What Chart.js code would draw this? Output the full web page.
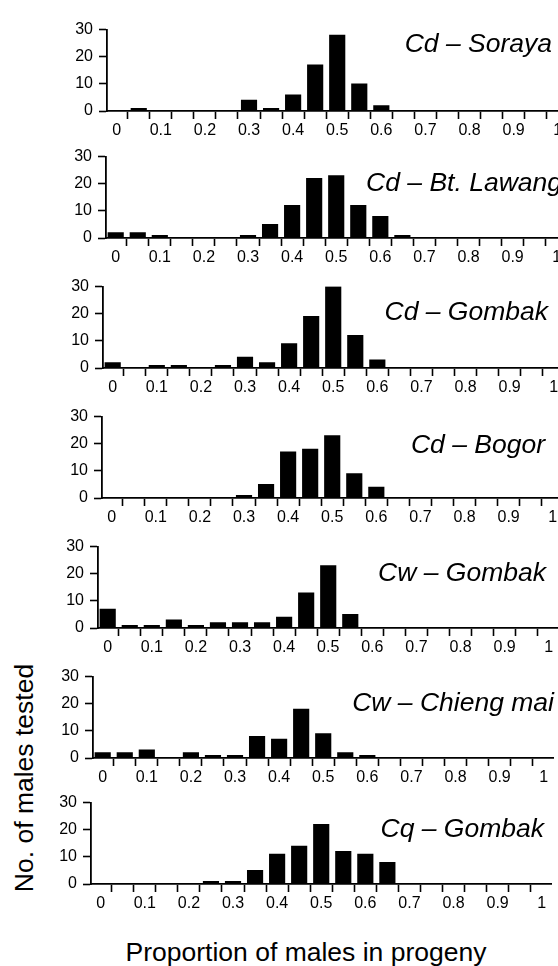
<!DOCTYPE html>
<html>
<head>
<meta charset="utf-8">
<script src="https://cdn.jsdelivr.net/npm/chart.js@4/dist/chart.umd.min.js"></script>
<style>
html,body{margin:0;padding:0;background:#fff;}
body{width:558px;height:966px;position:relative;overflow:hidden;font-family:"Liberation Sans",Arial,sans-serif;color:#000;}
canvas{position:absolute;}
#ytitle{position:absolute;left:24px;top:778px;transform:translate(-50%,-50%) rotate(-90deg);font-size:26.5px;line-height:30px;white-space:nowrap;}
#xtitle{position:absolute;left:306px;top:937px;transform:translateX(-50%);font-size:26.5px;line-height:30px;white-space:nowrap;}
</style>
</head>
<body>
<div id="ytitle">No. of males tested</div>
<div id="xtitle">Proportion of males in progeny</div>
<script>
// ---- data ----
const bins = [0,0.05,0.1,0.15,0.2,0.25,0.3,0.35,0.4,0.45,0.5,0.55,0.6,0.65,0.7,0.75,0.8,0.85,0.9,0.95,1];
const xTickLabels = ['0','0.1','0.2','0.3','0.4','0.5','0.6','0.7','0.8','0.9','1'];
const yTickValues = [0,10,20,30];
const panelNames = ['Cd \u2013 Soraya','Cd \u2013 Bt. Lawang','Cd \u2013 Gombak','Cd \u2013 Bogor','Cw \u2013 Gombak','Cw \u2013 Chieng mai','Cq \u2013 Gombak'];
const cdSoraya   = [0,1,0,0,0,0,4,1,6,17,28,10,2,0,0,0,0,0,0,0,0];
const cdLawang   = [2,2,1,0,0,0,1,5,12,22,23,12,8,1,0,0,0,0,0,0,0];
const cdGombak   = [2,0,1,1,0,1,4,2,9,19,30,12,3,0,0,0,0,0,0,0,0];
const cdBogor    = [0,0,0,0,0,0,1,5,17,18,23,9,4,0,0,0,0,0,0,0,0];
const cwGombak   = [7,1,1,3,1,2,2,2,4,13,23,5,0,0,0,0,0,0,0,0,0];
const cwChiengMai= [2,2,3,0,2,1,1,8,7,18,9,2,1,0,0,0,0,0,0,0,0];
const cqGombak   = [0,0,0,0,0,1,1,5,11,14,22,12,11,8,0,0,0,0,0,0,0];
const panelSeries = [cdSoraya, cdLawang, cdGombak, cdBogor, cwGombak, cwChiengMai, cqGombak];

// ---- layout (page placement of each panel, in px) ----
const panelLayout = [
  {left:47, top:14,  titleRight:552, titleLevel:24.5},
  {left:46, top:141, titleRight:562, titleLevel:20},
  {left:43, top:271, titleRight:548, titleLevel:20.5},
  {left:42, top:401, titleRight:545, titleLevel:19.3},
  {left:38, top:531, titleRight:546, titleLevel:20},
  {left:33, top:661, titleRight:554, titleLevel:20},
  {left:31, top:787, titleRight:544, titleLevel:20.2}
];

const FONT = '"Liberation Sans", Arial, sans-serif';

const panelTitlePlugin = {
  id: 'panelTitle',
  afterDraw(chart, args, opts) {
    const ctx = chart.ctx;
    const y = chart.scales.y.getPixelForValue(opts.level);
    ctx.save();
    ctx.font = 'italic 26.5px ' + FONT;
    ctx.fillStyle = '#000';
    ctx.textAlign = 'right';
    ctx.textBaseline = 'middle';
    ctx.fillText(opts.text, opts.x, y);
    ctx.restore();
  }
};

panelSeries.forEach((series, p) => {
  const L = panelLayout[p];
  const cv = document.createElement('canvas');
  cv.width = 540; cv.height = 130;
  cv.style.left = L.left + 'px';
  cv.style.top = L.top + 'px';
  document.body.appendChild(cv);
  new Chart(cv, {
    type: 'bar',
    data: {
      datasets: [{
        data: series.map((v, i) => ({x: bins[i], y: v})),
        backgroundColor: '#000',
        borderWidth: 0,
        barThickness: 15.5
      }]
    },
    plugins: [panelTitlePlugin],
    options: {
      responsive: false,
      animation: false,
      devicePixelRatio: 1,
      layout: {padding: {top: 10, right: 20, bottom: 0, left: 0}},
      plugins: {
        legend: {display: false},
        tooltip: {enabled: false},
        panelTitle: {text: panelNames[p], x: L.titleRight - L.left, level: L.titleLevel}
      },
      scales: {
        x: {
          type: 'linear', min: -0.022, max: 1.021, offset: false,
          afterBuildTicks: s => { s.ticks = bins.map(v => ({value: v})); },
          afterFit: s => { s.height = 33; },
          grid: {display: true, drawOnChartArea: false, drawTicks: true, tickLength: 8, tickColor: '#000', tickWidth: 1.6},
          border: {display: true, color: '#000', width: 1.8},
          ticks: {autoSkip: false, maxRotation: 0, minRotation: 0, padding: 2, color: '#000',
                  font: {family: FONT, size: 16},
                  callback: (v, i) => (i % 2 === 0 ? xTickLabels[i / 2] : '')}
        },
        y: {
          min: 0, max: 30,
          afterBuildTicks: s => { s.ticks = yTickValues.map(v => ({value: v})); },
          afterFit: s => { s.width = 60; },
          grid: {display: true, drawOnChartArea: false, drawTicks: true, tickLength: 8, tickColor: '#000', tickWidth: 1.6},
          border: {display: true, color: '#000', width: 1.8},
          ticks: {autoSkip: false, padding: 6, color: '#000', font: {family: FONT, size: 16},
                  callback: v => String(v)}
        }
      }
    }
  });
});
</script>
</body>
</html>
